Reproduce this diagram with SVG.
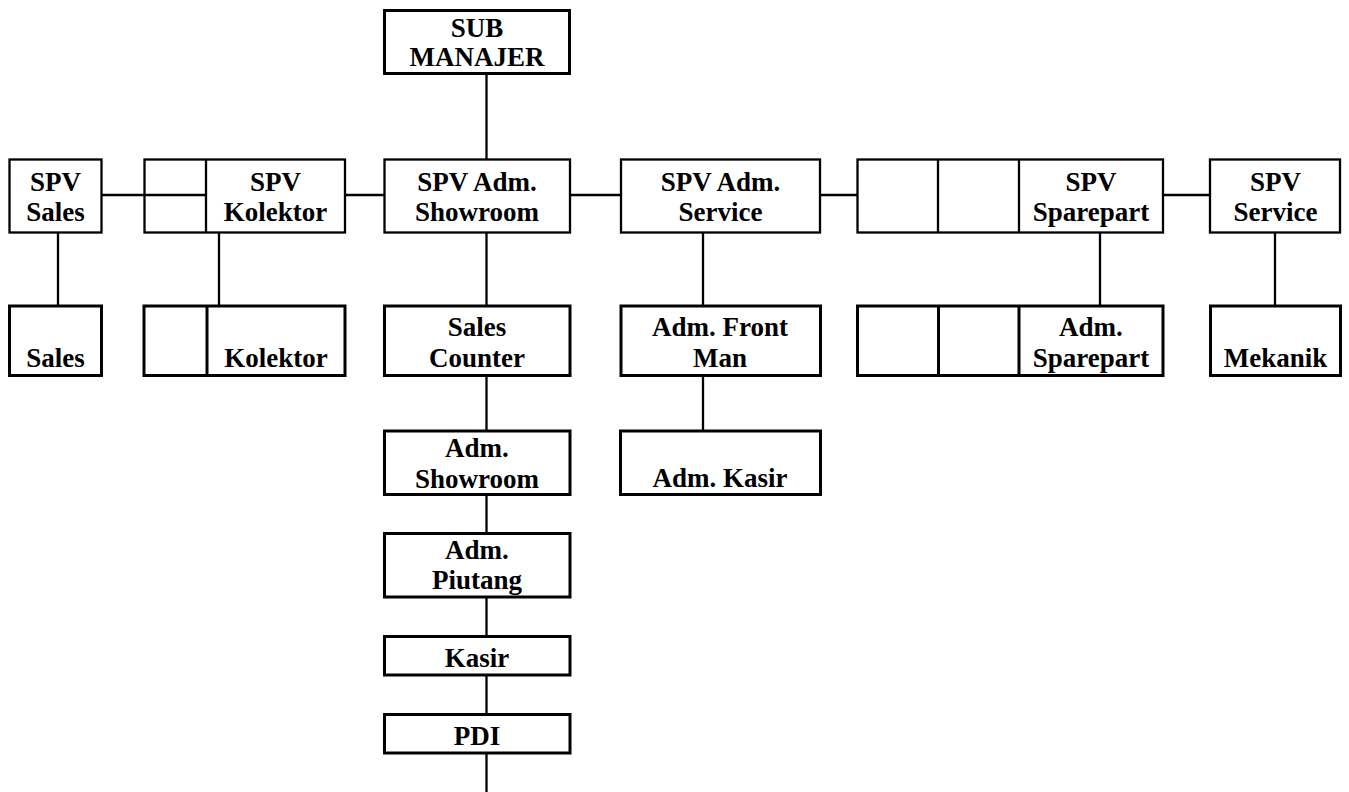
<svg xmlns="http://www.w3.org/2000/svg" width="1349" height="792" viewBox="0 0 1349 792">
<style>
.b{fill:#fff;stroke:#000;stroke-width:2.3}
.t{fill:#fff;stroke:#000;stroke-width:3}
.d{stroke:#000;stroke-width:2.3;fill:none}
.dt{stroke:#000;stroke-width:3;fill:none}
text{font-family:"Liberation Serif","Times New Roman",serif;font-weight:bold;font-size:27px;text-anchor:middle;fill:#000}
</style>
<rect width="1349" height="792" fill="#fff"/>
<g id="connectors" class="d">
<line x1="486.5" y1="74" x2="486.5" y2="159.5"/>
<line x1="101.5" y1="195" x2="206" y2="195"/>
<line x1="345" y1="195" x2="384.5" y2="195"/>
<line x1="570" y1="195" x2="621" y2="195"/>
<line x1="820" y1="195" x2="1019" y2="195"/>
<line x1="1163" y1="195" x2="1210" y2="195"/>
<line x1="58" y1="232.5" x2="58" y2="305"/>
<line x1="219" y1="232.5" x2="219" y2="305"/>
<line x1="486.5" y1="232.5" x2="486.5" y2="305"/>
<line x1="703" y1="232.5" x2="703" y2="305"/>
<line x1="1100" y1="232.5" x2="1100" y2="305"/>
<line x1="1275" y1="232.5" x2="1275" y2="305"/>
<line x1="486.5" y1="376" x2="486.5" y2="431"/>
<line x1="703" y1="376" x2="703" y2="431"/>
<line x1="486.5" y1="495" x2="486.5" y2="533"/>
<line x1="486.5" y1="597" x2="486.5" y2="636"/>
<line x1="486.5" y1="675" x2="486.5" y2="714"/>
<line x1="486.5" y1="753" x2="486.5" y2="792"/>
</g>
<g id="sub-manajer">
<rect class="t" x="384.5" y="10.5" width="185" height="63"/>
<text x="477" y="36.5">SUB</text>
<text x="477" y="65.5">MANAJER</text>
</g>
<g id="spv-sales">
<rect class="b" x="9.5" y="159.5" width="92" height="73"/>
<text x="55.5" y="190.5">SPV</text>
<text x="55.5" y="221">Sales</text>
</g>
<g id="spv-kolektor">
<rect class="b" x="144.5" y="159.5" width="200.5" height="73"/>
<line class="d" x1="206" y1="159.5" x2="206" y2="232.5"/>
<line class="d" x1="144.5" y1="195" x2="206" y2="195"/>
<text x="275.5" y="190.5">SPV</text>
<text x="275.5" y="221">Kolektor</text>
</g>
<g id="spv-adm-showroom">
<rect class="b" x="384.5" y="159.5" width="185.5" height="73"/>
<text x="477" y="190.5">SPV Adm.</text>
<text x="477" y="221">Showroom</text>
</g>
<g id="spv-adm-service">
<rect class="b" x="621" y="159.5" width="199" height="73"/>
<text x="720.5" y="190.5">SPV Adm.</text>
<text x="720.5" y="221">Service</text>
</g>
<g id="spv-sparepart">
<rect class="b" x="857.5" y="159.5" width="305.5" height="73"/>
<line class="d" x1="938" y1="159.5" x2="938" y2="232.5"/>
<line class="d" x1="1019" y1="159.5" x2="1019" y2="232.5"/>
<text x="1091" y="190.5">SPV</text>
<text x="1091" y="221">Sparepart</text>
</g>
<g id="spv-service">
<rect class="b" x="1210" y="159.5" width="130" height="73"/>
<text x="1275.5" y="190.5">SPV</text>
<text x="1275.5" y="221">Service</text>
</g>
<g id="sales">
<rect class="t" x="9.5" y="306" width="92" height="69.5"/>
<text x="55.5" y="367">Sales</text>
</g>
<g id="kolektor">
<rect class="t" x="144" y="306" width="201" height="69.5"/>
<line class="dt" x1="207" y1="306" x2="207" y2="375.5"/>
<text x="276" y="367">Kolektor</text>
</g>
<g id="sales-counter">
<rect class="t" x="384.5" y="306" width="185.5" height="69.5"/>
<text x="477" y="336">Sales</text>
<text x="477" y="367">Counter</text>
</g>
<g id="adm-front-man">
<rect class="t" x="621" y="306" width="199.5" height="69.5"/>
<text x="720" y="336">Adm. Front</text>
<text x="720" y="367">Man</text>
</g>
<g id="adm-sparepart">
<rect class="t" x="857.5" y="306" width="305.5" height="69.5"/>
<line class="dt" x1="938.5" y1="306" x2="938.5" y2="375.5"/>
<line class="dt" x1="1019" y1="306" x2="1019" y2="375.5"/>
<text x="1091" y="336">Adm.</text>
<text x="1091" y="367">Sparepart</text>
</g>
<g id="mekanik">
<rect class="t" x="1210.5" y="306" width="130" height="69.5"/>
<text x="1275.5" y="367">Mekanik</text>
</g>
<g id="adm-showroom">
<rect class="t" x="384.5" y="431" width="185.5" height="63.5"/>
<text x="477" y="457">Adm.</text>
<text x="477" y="488">Showroom</text>
</g>
<g id="adm-kasir">
<rect class="t" x="620.5" y="431" width="200" height="63.5"/>
<text x="720" y="487">Adm. Kasir</text>
</g>
<g id="adm-piutang">
<rect class="t" x="384.5" y="533.5" width="185.5" height="63.5"/>
<text x="477" y="558.5">Adm.</text>
<text x="477" y="588.5">Piutang</text>
</g>
<g id="kasir">
<rect class="t" x="384.5" y="636.5" width="185.5" height="38.5"/>
<text x="477" y="667">Kasir</text>
</g>
<g id="pdi">
<rect class="t" x="384.5" y="714.5" width="185.5" height="38.5"/>
<text x="477" y="745">PDI</text>
</g>
</svg>
